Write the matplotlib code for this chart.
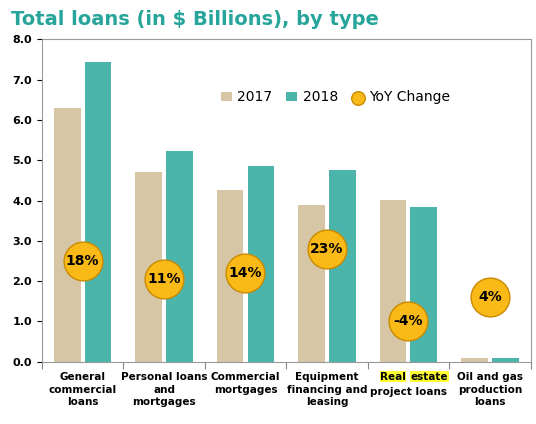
import matplotlib.pyplot as plt
import numpy as np

categories = ["General\ncommercial\nloans", "Personal loans\nand\nmortgages", "Commercial\nmortgages",
              "Equipment\nfinancing and\nleasing", "Real estate\nproject loans", "Oil and gas\nproduction\nloans"]
v2017 = [6.3, 4.7, 4.25, 3.88, 4.02, 0.1]
v2018 = [7.45, 5.23, 4.85, 4.77, 3.85, 0.1]
yoy_labels = ["18%", "11%", "14%", "23%", "-4%", "4%"]
yoy_pos = [2.5, 2.05, 2.2, 2.8, 1.0, 1.6]

fig = plt.figure(figsize=(5.36, 4.24), dpi=100)
ax = fig.add_axes([0.078, 0.147, 0.912, 0.76])
x = np.arange(len(categories))
w = 0.33
b1 = ax.bar(x - 0.19, v2017, w, color="#D6C6A5", label="2017")
b2 = ax.bar(x + 0.19, v2018, w, color="#4BB5AB", label="2018")
sc = ax.scatter(x, yoy_pos, s=780, color="#F9B916", edgecolor="#C98A00", linewidth=1, zorder=3, label="YoY Change")
for xi, yi, t in zip(x, yoy_pos, yoy_labels):
    ax.text(xi, yi, t, ha="center", va="center", fontsize=10, fontweight="bold", zorder=4)
ax.set_xlim(-0.5, 5.5)
ax.set_ylim(0, 8)
ax.set_yticks(np.arange(0, 8.1, 1))
ax.set_yticklabels([f"{v:.1f}" for v in np.arange(0, 8.1, 1)], fontsize=8, fontweight="bold")
ax.set_xticks(np.arange(-0.5, 5.6, 1))
ax.set_xticklabels([])
ax.tick_params(axis="x", length=5, color="#888888")
fs = 7.5
for xi, c in zip(x, categories):
    if xi == 4:
        ax.text(xi - 0.03, -0.25, "Real", ha="right", va="top", fontsize=fs, fontweight="bold",
                bbox=dict(facecolor="#FFFF33", edgecolor="none", pad=0.3))
        ax.text(xi + 0.03, -0.25, "estate", ha="left", va="top", fontsize=fs, fontweight="bold",
                bbox=dict(facecolor="#FFFF33", edgecolor="none", pad=0.3))
        ax.text(xi, -0.62, "project loans", ha="center", va="top", fontsize=fs, fontweight="bold")
        continue
    ax.text(xi, -0.25, c, ha="center", va="top", fontsize=fs, fontweight="bold", linespacing=1.35)
for s in ax.spines.values():
    s.set_color("#999999")
ax.legend(handles=[b1, b2, sc], loc="center right", bbox_to_anchor=(0.86, 0.82), ncol=3, frameon=False, fontsize=10,
          handlelength=0.8, handletextpad=0.4, columnspacing=1.0, markerscale=0.35)
fig.text(0.02, 0.955, "Total loans (in $ Billions), by type", fontsize=14, fontweight="bold", color="#27A59B", va="center")
fig.savefig("out.png", dpi=100)
